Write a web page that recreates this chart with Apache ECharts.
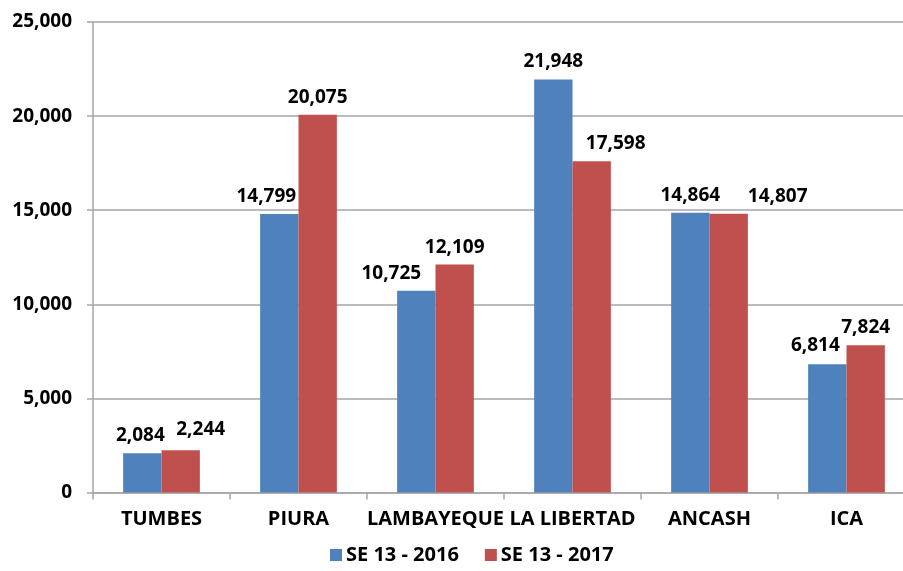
<!DOCTYPE html>
<html>
<head>
<meta charset="utf-8">
<script src="https://cdn.jsdelivr.net/npm/echarts@6/dist/echarts.min.js"></script>
<style>html,body{margin:0;padding:0;background:#fff;overflow:hidden}#c{width:915px;height:571px}</style>
</head>
<body>
<div id="c"></div>
<script>
const categories = ['TUMBES', 'PIURA', 'LAMBAYEQUE', 'LA LIBERTAD', 'ANCASH', 'ICA'];
const seriesNames = ['SE 13 - 2016', 'SE 13 - 2017'];
const values2016 = [2084, 14799, 10725, 21948, 14864, 6814];
const values2017 = [2244, 20075, 12109, 17598, 14807, 7824];
const yTicks = [0, 5000, 10000, 15000, 20000, 25000];

// label nudges (layout only, as in the original chart's hand-placed labels)
const labelShift2016 = [[-2, 0], [-13, 0], [-25, 0], [0, 0], [0, 0], [-12, -1]];
const labelShift2017 = [[20, -3], [0, 0], [0, 0], [24, 0], [49, 0], [0, 0]];

const fmt = v => Number(v).toLocaleString('en-US');
const FONT = '"Open Sans", sans-serif';
const FS = 19;
const chart = echarts.init(document.getElementById('c'));
const labelCfg = {
  show: true, position: 'top', distance: 8,
  fontFamily: FONT, fontWeight: 'bold', fontSize: FS, color: '#000',
  formatter: p => fmt(p.value)
};
const mk = (vals, shifts) => vals.map((v, i) => ({ value: v, label: { offset: shifts[i] } }));
chart.setOption({
  animation: false,
  grid: { left: 93, right: 0, top: 22, bottom: 78.5, containLabel: false },
  legend: {
    bottom: 1, left: 325, itemWidth: 12, itemHeight: 12, itemGap: 26,
    icon: 'rect',
    textStyle: { fontFamily: FONT, fontWeight: 'bold', fontSize: 20, color: '#000', padding: [0, 0, 0, -1] },
    data: seriesNames
  },
  xAxis: {
    type: 'category', data: categories,
    axisLine: { lineStyle: { color: '#A6A6A6', width: 1.5 } },
    axisTick: { show: true, length: 7, lineStyle: { color: '#A6A6A6', width: 1.5 } },
    axisLabel: { margin: 17, fontFamily: FONT, fontWeight: 'bold', fontSize: 20, color: '#000', interval: 0 }
  },
  yAxis: {
    type: 'value', min: yTicks[0], max: yTicks[yTicks.length - 1], interval: 5000,
    axisLine: { show: true, lineStyle: { color: '#A6A6A6', width: 1.5 } },
    axisTick: { show: true, length: 6, lineStyle: { color: '#A6A6A6', width: 1.5 } },
    splitLine: { show: true, lineStyle: { color: '#A6A6A6', width: 1.5 } },
    axisLabel: { margin: 21, fontFamily: FONT, fontWeight: 'bold', fontSize: FS, color: '#000', formatter: v => fmt(v) }
  },
  series: [
    { name: seriesNames[0], type: 'bar', data: mk(values2016, labelShift2016), barGap: '0%', barCategoryGap: '44%',
      itemStyle: { color: '#4F81BD' }, label: labelCfg },
    { name: seriesNames[1], type: 'bar', data: mk(values2017, labelShift2017), barGap: '0%', barCategoryGap: '44%',
      itemStyle: { color: '#C0504D' }, label: labelCfg }
  ]
});
</script>
</body>
</html>
